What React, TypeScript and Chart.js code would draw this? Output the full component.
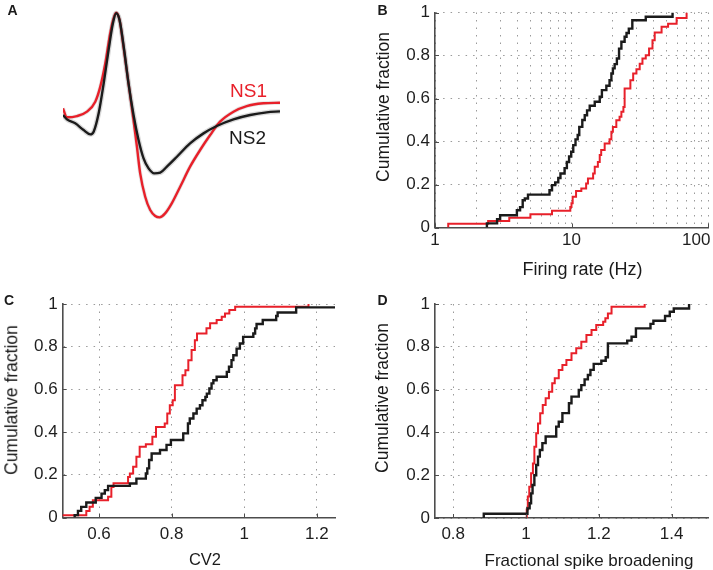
import React, { useEffect, useRef } from "react";
import { Chart, registerables } from "chart.js";

Chart.register(...registerables);

const FONT = "'Liberation Sans', Arial, Helvetica, sans-serif";
const RED = "#e8202a";
const BLACK = "#1b1b1b";
const AXIS_COLOR = "#4d4d4d";
const GRID_COLOR = "#9a9a9a";

// ---------- Panel A: mean waveforms (time in ms, normalised amplitude) ----------
const WAVE_NS1_T = [0, 0.029, 0.103, 0.177, 0.238, 0.275, 0.312, 0.348, 0.373, 0.392, 0.417, 0.446, 0.483, 0.52, 0.545, 0.569, 0.606, 0.643, 0.68, 0.712, 0.753, 0.802, 0.864, 0.937, 1.011, 1.085, 1.158, 1.257, 1.355, 1.477, 1.6];
const WAVE_NS1_V = [0.017, -0.075, -0.062, -0.017, 0.086, 0.24, 0.48, 0.788, 0.942, 1.0, 0.925, 0.651, 0.274, -0.103, -0.377, -0.651, -0.891, -1.028, -1.089, -1.103, -1.062, -0.959, -0.788, -0.582, -0.411, -0.257, -0.12, -0.017, 0.041, 0.069, 0.075];
const WAVE_NS2_T = [0, 0.029, 0.09, 0.152, 0.201, 0.226, 0.263, 0.3, 0.336, 0.368, 0.392, 0.417, 0.451, 0.483, 0.52, 0.557, 0.594, 0.631, 0.673, 0.717, 0.766, 0.84, 0.937, 1.036, 1.134, 1.257, 1.38, 1.502, 1.6];
const WAVE_NS2_V = [-0.051, -0.096, -0.137, -0.206, -0.25, -0.223, -0.034, 0.274, 0.617, 0.891, 0.994, 0.925, 0.617, 0.274, -0.051, -0.308, -0.497, -0.6, -0.651, -0.644, -0.582, -0.48, -0.343, -0.24, -0.164, -0.096, -0.051, -0.024, -0.014];

// ---------- Panel B: firing rate CDF ----------
const B_NS1_HZ = [1.25, 1.25, 2.45, 3.5, 5.0, 7.2, 9.8, 10.0, 10.2, 10.8, 11.8, 12.8, 13.2, 14.4, 14.8, 15.6, 16.1, 16.5, 17.5, 19.0, 19.6, 20.1, 21.3, 22.5, 23.2, 24.0, 24.5, 27.0, 28.3, 29.9, 31.6, 33.1, 35, 37, 39.2, 40.7, 45.7, 51, 58.9, 69.7];
const B_NS1_FRAC = [0, 0.017, 0.03, 0.045, 0.062, 0.078, 0.095, 0.113, 0.143, 0.17, 0.181, 0.205, 0.228, 0.251, 0.282, 0.305, 0.337, 0.36, 0.391, 0.41, 0.445, 0.468, 0.499, 0.515, 0.538, 0.56, 0.647, 0.685, 0.716, 0.736, 0.762, 0.786, 0.801, 0.832, 0.871, 0.907, 0.934, 0.948, 0.975, 1.0];
const B_NS2_HZ = [2.4, 2.4, 2.85, 3.0, 3.98, 4.2, 4.39, 4.55, 4.8, 6.9, 7.2, 7.6, 8.0, 8.3, 8.9, 9.25, 9.6, 9.95, 10.3, 10.7, 11.1, 11.4, 12.0, 12.5, 13.0, 13.6, 14.8, 16.1, 16.7, 18.0, 19.0, 19.6, 20.1, 20.7, 21.5, 22.3, 23.2, 24.5, 25.3, 26.3, 27.9, 35, 55];
const B_NS2_FRAC = [0, 0.019, 0.039, 0.057, 0.08, 0.095, 0.127, 0.135, 0.153, 0.173, 0.197, 0.21, 0.23, 0.251, 0.276, 0.305, 0.33, 0.352, 0.383, 0.41, 0.43, 0.468, 0.5, 0.522, 0.545, 0.566, 0.585, 0.608, 0.639, 0.659, 0.685, 0.716, 0.74, 0.76, 0.786, 0.832, 0.864, 0.887, 0.905, 0.925, 0.964, 0.98, 1.0];
const B_GRID_TICKS = [1, 2, 3, 4, 5, 6, 7, 8, 9, 10, 20, 30, 40, 50, 60, 70, 80, 90, 100];
const B_LABELED_TICKS = [1, 10, 100];

// ---------- Panel C: CV2 CDF ----------
const C_NS1_CV2 = [0.48, 0.48, 0.565, 0.574, 0.583, 0.625, 0.634, 0.64, 0.68, 0.685, 0.694, 0.703, 0.712, 0.729, 0.747, 0.757, 0.781, 0.788, 0.795, 0.803, 0.809, 0.83, 0.838, 0.846, 0.855, 0.864, 0.87, 0.896, 0.906, 0.924, 0.938, 0.947, 0.959, 0.975, 1.177];
const C_NS1_FRAC = [0, 0.011, 0.031, 0.05, 0.081, 0.097, 0.143, 0.16, 0.19, 0.206, 0.238, 0.284, 0.331, 0.343, 0.378, 0.424, 0.44, 0.487, 0.526, 0.549, 0.62, 0.666, 0.69, 0.737, 0.784, 0.83, 0.862, 0.886, 0.91, 0.925, 0.94, 0.956, 0.972, 0.987, 1.0];
const C_NS2_CV2 = [0.533, 0.533, 0.542, 0.551, 0.565, 0.591, 0.607, 0.616, 0.625, 0.685, 0.703, 0.729, 0.733, 0.738, 0.745, 0.768, 0.786, 0.798, 0.832, 0.845, 0.85, 0.86, 0.869, 0.878, 0.885, 0.893, 0.897, 0.904, 0.91, 0.915, 0.924, 0.952, 0.958, 0.965, 0.97, 0.979, 0.988, 0.997, 1.025, 1.03, 1.034, 1.051, 1.088, 1.092, 1.143, 1.3];
const C_NS2_FRAC = [0, 0.011, 0.031, 0.05, 0.07, 0.092, 0.112, 0.128, 0.148, 0.159, 0.182, 0.206, 0.23, 0.269, 0.3, 0.316, 0.34, 0.363, 0.394, 0.44, 0.464, 0.487, 0.51, 0.526, 0.549, 0.565, 0.58, 0.604, 0.628, 0.643, 0.659, 0.682, 0.706, 0.737, 0.76, 0.791, 0.815, 0.846, 0.862, 0.886, 0.906, 0.925, 0.944, 0.96, 0.984, 1.0];
const C_TICKS = [0.6, 0.8, 1, 1.2];

// ---------- Panel D: fractional spike broadening CDF ----------
const D_NS1_BROAD = [1.0, 1.002, 1.005, 1.009, 1.014, 1.019, 1.023, 1.028, 1.033, 1.039, 1.046, 1.054, 1.063, 1.072, 1.079, 1.09, 1.1, 1.111, 1.125, 1.138, 1.152, 1.166, 1.18, 1.193, 1.212, 1.218, 1.225, 1.235, 1.326];
const D_NS1_FRAC = [0, 0.04, 0.1, 0.146, 0.209, 0.255, 0.333, 0.396, 0.442, 0.49, 0.528, 0.56, 0.59, 0.63, 0.653, 0.692, 0.715, 0.738, 0.77, 0.793, 0.824, 0.855, 0.879, 0.902, 0.917, 0.933, 0.956, 0.987, 1.0];
const D_NS2_BROAD = [0.884, 0.884, 1.004, 1.01, 1.014, 1.018, 1.023, 1.028, 1.033, 1.038, 1.045, 1.054, 1.083, 1.09, 1.1, 1.118, 1.125, 1.145, 1.152, 1.161, 1.17, 1.177, 1.186, 1.207, 1.219, 1.225, 1.278, 1.29, 1.302, 1.342, 1.35, 1.382, 1.395, 1.406, 1.448];
const D_NS2_FRAC = [0, 0.02, 0.045, 0.069, 0.115, 0.154, 0.2, 0.248, 0.287, 0.318, 0.35, 0.381, 0.427, 0.45, 0.49, 0.536, 0.567, 0.598, 0.621, 0.648, 0.668, 0.692, 0.72, 0.735, 0.751, 0.816, 0.829, 0.847, 0.886, 0.907, 0.922, 0.944, 0.964, 0.979, 1.0];
const D_TICKS = [0.8, 1, 1.2, 1.4];

const Y_TICKS = [0, 0.2, 0.4, 0.6, 0.8, 1];

const zip = (xs: number[], ys: number[]) => xs.map((x, i) => ({ x, y: ys[i] }));

// MATLAB-style inward tick marks
const inwardTicks = {
  id: "inwardTicks",
  afterDraw(chart: any) {
    const { ctx, chartArea } = chart;
    const xs = chart.scales.x;
    const ys = chart.scales.y;
    if (!xs || !ys || !xs.options.display) return;
    ctx.save();
    ctx.strokeStyle = AXIS_COLOR;
    ctx.lineWidth = 1;
    const labeled = (chart.options as any).labeledTicks as number[] | undefined;
    xs.ticks.forEach((t: any) => {
      if (labeled && !labeled.includes(t.value)) return;
      const px = Math.round(xs.getPixelForValue(t.value)) + 0.5;
      ctx.beginPath();
      ctx.moveTo(px, chartArea.bottom);
      ctx.lineTo(px, chartArea.bottom - 4);
      ctx.stroke();
    });
    ys.ticks.forEach((t: any) => {
      const py = Math.round(ys.getPixelForValue(t.value)) + 0.5;
      ctx.beginPath();
      ctx.moveTo(chartArea.left, py);
      ctx.lineTo(chartArea.left + 4, py);
      ctx.stroke();
    });
    ctx.restore();
  },
};

type CdfOpts = {
  xType: "linear" | "logarithmic";
  xMin: number;
  xMax: number;
  xTicks: number[];
  xLabeled?: number[];
  lastLabelInset?: number;
  yAxisWidth: number;
  xAxisHeight: number;
  padTop: number;
  padRight: number;
  xTickPad: number;
  ns1: { x: number; y: number }[];
  ns2: { x: number; y: number }[];
};

function cdfConfig(o: CdfOpts): any {
  const tickFont = { family: FONT, size: 17 };
  return {
    type: "line",
    data: {
      datasets: [
        { data: o.ns2, borderColor: BLACK, borderWidth: 2.4, stepped: "before", pointRadius: 0, fill: false },
        { data: o.ns1, borderColor: RED, borderWidth: 2, stepped: "before", pointRadius: 0, fill: false },
      ],
    },
    options: {
      responsive: false,
      animation: false,
      events: [],
      labeledTicks: o.xLabeled,
      layout: { padding: { top: o.padTop, right: o.padRight, left: 0, bottom: 0 } },
      plugins: { legend: { display: false }, tooltip: { enabled: false } },
      scales: {
        x: {
          type: o.xType,
          min: o.xMin,
          max: o.xMax,
          afterBuildTicks: (s: any) => {
            s.ticks = o.xTicks.map((v) => ({ value: v }));
          },
          afterFit: (s: any) => {
            s.height = o.xAxisHeight;
            s.paddingLeft = 0;
            s.paddingRight = 0;
          },
          ticks: {
            autoSkip: false,
            maxRotation: 0,
            minRotation: 0,
            padding: o.xTickPad,
            font: tickFont,
            color: "#1e1e1e",
            callback: (v: any, i: number, ticks: any[]) => {
              const n = Number(v);
              if (o.xLabeled && !o.xLabeled.includes(n)) return "";
              // the last label is pulled inside the figure edge, as in the source
              if (o.lastLabelInset && i === ticks.length - 1) return String(n) + "\u00a0".repeat(o.lastLabelInset);
              return String(n);
            },
          },
          grid: { color: GRID_COLOR, lineWidth: 1, drawTicks: false },
          border: { display: true, color: AXIS_COLOR, width: 1.6, dash: [1.5, 6] },
        },
        y: {
          type: "linear",
          min: 0,
          max: 1,
          afterBuildTicks: (s: any) => {
            s.ticks = Y_TICKS.map((v) => ({ value: v }));
          },
          afterFit: (s: any) => {
            s.width = o.yAxisWidth;
            s.paddingTop = 0;
            s.paddingBottom = 0;
          },
          ticks: {
            padding: 5,
            font: tickFont,
            color: "#1e1e1e",
            callback: (v: any) => String(Number(v)),
          },
          grid: { color: GRID_COLOR, lineWidth: 1, drawTicks: false },
          border: { display: true, color: AXIS_COLOR, width: 1.6, dash: [1.5, 6] },
        },
      },
    },
    plugins: [inwardTicks],
  };
}

function waveConfig(): any {
  const ns1 = zip(WAVE_NS1_T, WAVE_NS1_V);
  const ns2 = zip(WAVE_NS2_T, WAVE_NS2_V);
  const common = { pointRadius: 0, fill: false, cubicInterpolationMode: "monotone" };
  return {
    type: "line",
    data: {
      datasets: [
        { ...common, data: ns2, borderColor: BLACK, borderWidth: 2.4 },
        { ...common, data: ns1, borderColor: RED, borderWidth: 2.4 },
        { ...common, data: ns2, borderColor: "rgba(160,160,160,0.4)", borderWidth: 5 },
        { ...common, data: ns1, borderColor: "rgba(180,180,180,0.35)", borderWidth: 4 },
      ],
    },
    options: {
      responsive: false,
      animation: false,
      events: [],
      layout: { padding: { left: 63, right: 60, top: 10, bottom: 20 } },
      plugins: { legend: { display: false }, tooltip: { enabled: false } },
      scales: {
        x: { type: "linear", display: false, min: 0, max: 1.6 },
        y: { type: "linear", display: false, min: -1.233, max: 1.028 },
      },
    },
  };
}

function ChartCanvas(props: { left: number; top: number; width: number; height: number; build: () => any }) {
  const ref = useRef<HTMLCanvasElement>(null);
  useEffect(() => {
    if (!ref.current) return;
    const chart = new Chart(ref.current, props.build());
    return () => chart.destroy();
  }, []);
  return (
    <canvas
      ref={ref}
      width={props.width}
      height={props.height}
      style={{ position: "absolute", left: props.left, top: props.top, width: props.width, height: props.height }}
    />
  );
}

function Label(props: { x: number; y: number; text: string; size: number; rotate?: boolean; bold?: boolean; color?: string }) {
  return (
    <div
      style={{
        position: "absolute",
        left: props.x,
        top: props.y,
        transform: `translate(-50%, -50%)${props.rotate ? " rotate(-90deg)" : ""}`,
        fontFamily: FONT,
        fontSize: props.size,
        fontWeight: props.bold ? 700 : 400,
        lineHeight: 1,
        whiteSpace: "nowrap",
        color: props.color || "#1a1a1a",
      }}
    >
      {props.text}
    </div>
  );
}

export default function App() {
  useEffect(() => {
    document.body.style.margin = "0";
  }, []);
  return (
    <div style={{ position: "absolute", left: 0, top: 0, width: 713, height: 570, background: "#fff", overflow: "hidden" }}>
      <ChartCanvas left={0} top={0} width={340} height={250} build={waveConfig} />
      <ChartCanvas
        left={360}
        top={0}
        width={353}
        height={280}
        build={() =>
          cdfConfig({
            xType: "logarithmic",
            xMin: 1,
            xMax: 100,
            xTicks: B_GRID_TICKS,
            xLabeled: B_LABELED_TICKS,
            lastLabelInset: 5,
            yAxisWidth: 75,
            xAxisHeight: 52.5,
            padTop: 12.5,
            padRight: 5,
            xTickPad: 3,
            ns1: zip(B_NS1_HZ, B_NS1_FRAC),
            ns2: zip(B_NS2_HZ, B_NS2_FRAC),
          })
        }
      />
      <ChartCanvas
        left={0}
        top={285}
        width={356}
        height={285}
        build={() =>
          cdfConfig({
            xType: "linear",
            xMin: 0.5,
            xMax: 1.25,
            xTicks: C_TICKS,
            yAxisWidth: 62.7,
            xAxisHeight: 52.5,
            padTop: 19,
            padRight: 21,
            xTickPad: 7,
            ns1: zip(C_NS1_CV2, C_NS1_FRAC),
            ns2: zip(C_NS2_CV2, C_NS2_FRAC),
          })
        }
      />
      <ChartCanvas
        left={360}
        top={285}
        width={353}
        height={285}
        build={() =>
          cdfConfig({
            xType: "linear",
            xMin: 0.75,
            xMax: 1.5,
            xTicks: D_TICKS,
            yAxisWidth: 75,
            xAxisHeight: 52,
            padTop: 19,
            padRight: 5,
            xTickPad: 6,
            ns1: zip(D_NS1_BROAD, D_NS1_FRAC),
            ns2: zip(D_NS2_BROAD, D_NS2_FRAC),
          })
        }
      />

      <Label x={12.5} y={10} text="A" size={14} bold />
      <Label x={382.5} y={9.5} text="B" size={14} bold />
      <Label x={9} y={299.5} text="C" size={14} bold />
      <Label x={382.5} y={299.5} text="D" size={14} bold />

      <Label x={248.5} y={89.5} text="NS1" size={19} color={RED} />
      <Label x={247.5} y={137} text="NS2" size={19} />

      <Label x={383.5} y={106.7} text="Cumulative fraction" size={17.5} rotate />
      <Label x={11.7} y={400} text="Cumulative fraction" size={17.5} rotate />
      <Label x={382.5} y={398.3} text="Cumulative fraction" size={17.5} rotate />

      <Label x={582.5} y={269} text="Firing rate (Hz)" size={18} />
      <Label x={205} y={558.5} text="CV2" size={16.5} />
      <Label x={589} y={560} text="Fractional spike broadening" size={17} />
    </div>
  );
}
